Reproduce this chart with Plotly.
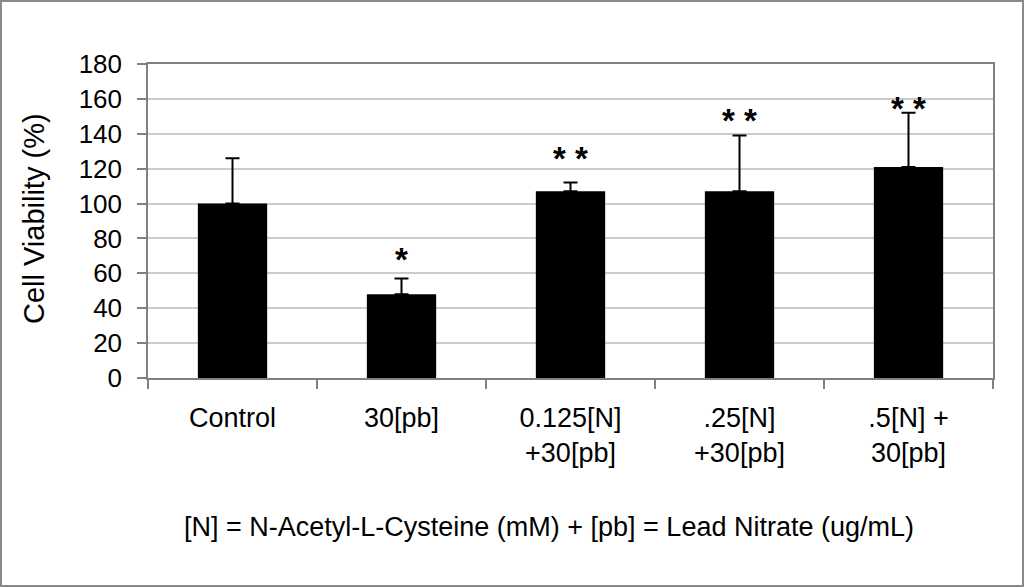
import plotly.graph_objects as go

categories = ["Control", "30[pb]", "0.125[N]<br>+30[pb]", ".25[N]<br>+30[pb]", ".5[N] +<br>30[pb]"]
viability = [100, 48, 107, 107, 121]
error_plus = [26, 9, 5, 32, 31]
star_text = ["", "*", "* *", "* *", "* *"]
star_y = [None, 70, 128, 150, 157]
y_ticks = [0, 20, 40, 60, 80, 100, 120, 140, 160, 180]
footer = "[N] = N-Acetyl-L-Cysteine (mM) + [pb] = Lead Nitrate (ug/mL)"
y_title = "Cell Viability (%)"

W, H = 1024, 587
ML, MR, MT, MB = 148, 31, 64, 209
PW = W - ML - MR
PH = H - MT - MB

FONT = "Liberation Sans, Arial, sans-serif"

fig = go.Figure()
fig.add_trace(go.Bar(
    x=categories,
    y=viability,
    marker=dict(color="black", line=dict(color="black", width=0)),
    error_y=dict(type="data", symmetric=False, array=error_plus,
                 arrayminus=[0] * len(error_plus),
                 color="black", thickness=2, width=7),
    showlegend=False,
))

for c, t, yv in zip(categories, star_text, star_y):
    if t:
        fig.add_annotation(x=c, y=yv, xref="x", yref="y", text="<b>" + t + "</b>",
                           showarrow=False, yshift=-4, xanchor="center", yanchor="middle",
                           font=dict(family=FONT, size=33, color="black"))

fig.add_annotation(x=(549 - ML) / PW, y=(MT + PH - 527) / PH, xref="paper", yref="paper",
                   text=footer, showarrow=False, xanchor="center", yanchor="middle",
                   font=dict(family=FONT, size=27, color="black"))
fig.add_annotation(x=(34 - ML) / PW, y=(MT + PH - 218) / PH, xref="paper", yref="paper",
                   text=y_title, textangle=-90, showarrow=False, xanchor="center", yanchor="middle",
                   font=dict(family=FONT, size=29, color="black"))

# outer figure border
fig.add_shape(type="rect", xref="paper", yref="paper",
              x0=(1 - ML) / PW, x1=(W - 1 - ML) / PW,
              y0=(MT + PH - (H - 1)) / PH, y1=(MT + PH - 1) / PH,
              line=dict(color="#8a8a8a", width=2), fillcolor="rgba(0,0,0,0)", layer="below")

fig.update_layout(
    width=W, height=H,
    margin=dict(l=ML, r=MR, t=MT, b=MB, pad=0),
    paper_bgcolor="white", plot_bgcolor="white",
    bargap=0.59,
    font=dict(family=FONT, color="black"),
)
fig.update_xaxes(
    type="category", showgrid=False, tickson="boundaries", ticks="outside", ticklen=9,
    tickcolor="#808080", tickwidth=1.5, showline=True, linecolor="#808080", linewidth=1.5,
    mirror=True, tickfont=dict(family=FONT, size=27, color="black"), ticklabelstandoff=15,
)
fig.update_yaxes(
    range=[0, 180], tickvals=y_ticks, ticks="outside", ticklen=9, tickcolor="#808080",
    tickwidth=1.5, showline=True, linecolor="#808080", linewidth=1.5, mirror=True,
    showgrid=True, gridcolor="#cccccc", gridwidth=1.5, zeroline=False,
    tickfont=dict(family=FONT, size=26, color="black"), ticklabelstandoff=10,
)

fig.write_html("out.html", config={"displayModeBar": False},
               post_script="document.body.style.margin='0';document.body.style.overflow='hidden';")
